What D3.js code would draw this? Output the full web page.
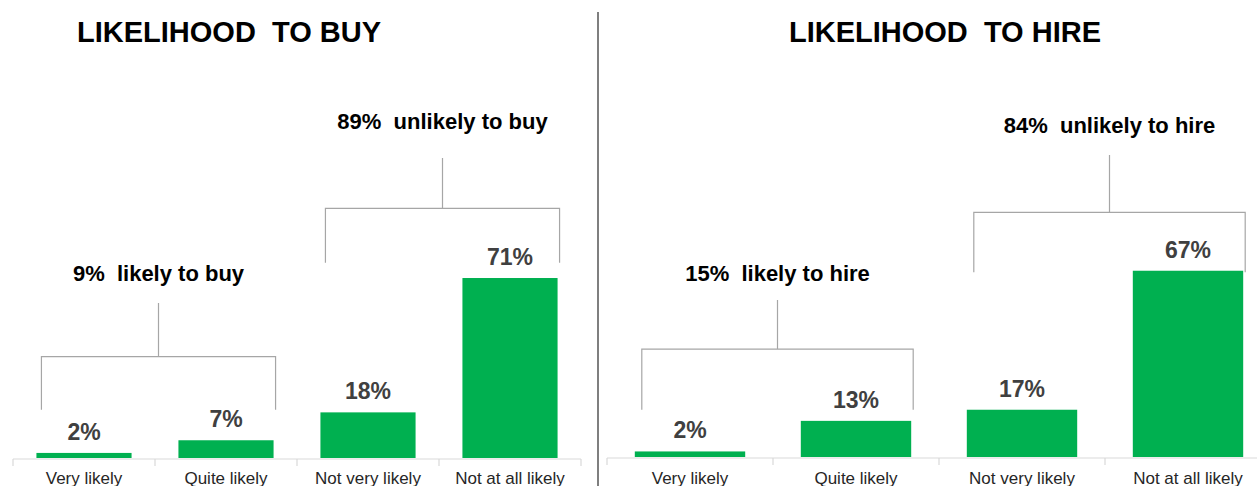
<!DOCTYPE html>
<html><head><meta charset="utf-8">
<script src="https://cdn.jsdelivr.net/npm/d3@7"></script>
<style>
html,body{margin:0;padding:0;background:#fff;overflow:hidden}
text{font-family:"Liberation Sans",Arial,sans-serif}
</style></head>
<body><svg id="c" width="1257" height="486"></svg>
<script>
// ---- data ----
const categories = ["Very likely","Quite likely","Not very likely","Not at all likely"];
const buyValues  = [2, 7, 18, 71];
const hireValues = [2, 13, 17, 67];
const titles = ["LIKELIHOOD\u00A0\u00A0TO BUY", "LIKELIHOOD\u00A0\u00A0TO HIRE"];
const buyGroupLabels  = ["9%\u00A0\u00A0likely to buy", "89%\u00A0\u00A0unlikely to buy"];
const hireGroupLabels = ["15%\u00A0\u00A0likely to hire", "84%\u00A0\u00A0unlikely to hire"];
const groupMembers = [[0,1],[2,3]];
// bracket levels in value units: [horizontal bar, leg end, stem top, label baseline]
const buyBracketLevels  = [[40, 19, 61.1, 69.8], [98.5, 77, 118.3, 129.8]];
const hireBracketLevels = [[38.8, 17, 56.5, 63.3], [88, 66.5, 108.6, 116.5]];

const svg = d3.select("#c");
const green = "#00b050";

function panel(opts){
  const g = svg.append("g");
  const x = d3.scaleBand().domain(categories).range(opts.xRange).paddingInner(opts.pad).paddingOuter(opts.pad/2);
  const y = d3.scaleLinear().domain([0, 100]).range([opts.base, opts.base - opts.pxPerPct*100]);

  // title
  g.append("text").attr("x", opts.titleX).attr("y", 42)
    .attr("font-size", 29).attr("font-weight", "bold").attr("fill", "#000")
    .attr("text-anchor", "middle").text(opts.title);

  // axis
  const axisG = g.append("g").attr("transform", `translate(0,${opts.base+1})`)
    .call(d3.axisBottom(x).tickSize(0).tickFormat(""));
  axisG.select(".domain").attr("stroke", "#d9d9d9").attr("stroke-width", 1.2)
    .attr("d", `M${opts.xRange[0]},0H${opts.xRange[1]}`);
  const step = x.step();
  const bounds = d3.range(categories.length + 1).map(i => opts.xRange[0] + i*step);
  axisG.selectAll(".bt").data(bounds).enter().append("line")
    .attr("x1", d => d).attr("x2", d => d).attr("y1", 0).attr("y2", 7)
    .attr("stroke", "#d9d9d9").attr("stroke-width", 1.2);

  // category labels
  g.selectAll(".cat").data(categories).enter().append("text")
    .attr("x", d => x(d) + x.bandwidth()/2).attr("y", 484)
    .attr("text-anchor", "middle").attr("font-size", 17).attr("fill", "#262626")
    .text(d => d);

  // bars
  g.selectAll(".bar").data(opts.values).enter().append("rect")
    .attr("x", (d,i) => x(categories[i])).attr("width", x.bandwidth())
    .attr("y", d => y(d)).attr("height", d => opts.base - y(d))
    .attr("fill", green);

  // value labels
  g.selectAll(".val").data(opts.values).enter().append("text")
    .attr("x", (d,i) => x(categories[i]) + x.bandwidth()/2)
    .attr("y", d => y(d) - 13)
    .attr("text-anchor", "middle").attr("font-size", 23).attr("font-weight", "bold")
    .attr("fill", "#404040").text(d => d + "%");

  // brackets
  groupMembers.forEach((mem, gi) => {
    const lv = opts.levels[gi];
    const x0 = x(categories[mem[0]]) + opts.legIn;
    const x1 = x(categories[mem[mem.length-1]]) + x.bandwidth() + 2;
    const xm = (x0 + x1) / 2;
    const path = d3.path();
    path.moveTo(x0, y(lv[1])); path.lineTo(x0, y(lv[0])); path.lineTo(x1, y(lv[0])); path.lineTo(x1, y(lv[1]));
    path.moveTo(xm, y(lv[0])); path.lineTo(xm, y(lv[2]));
    g.append("path").attr("d", path.toString()).attr("fill", "none")
      .attr("stroke", "#a6a6a6").attr("stroke-width", 1.2);
    g.append("text").attr("x", xm).attr("y", y(lv[3]))
      .attr("text-anchor", "middle").attr("font-size", 22).attr("font-weight", "bold")
      .attr("fill", "#000").text(opts.groupLabels[gi]);
  });
}

panel({xRange:[13, 581], pad:0.33, base:458, pxPerPct:2.535, values:buyValues, legIn:5,
       title:titles[0], titleX:229, groupLabels:buyGroupLabels, levels:buyBracketLevels});
panel({xRange:[607, 1271], pad:0.335, base:457, pxPerPct:2.78, values:hireValues, legIn:7,
       title:titles[1], titleX:945, groupLabels:hireGroupLabels, levels:hireBracketLevels});

// divider
svg.append("line").attr("x1", 598).attr("x2", 598).attr("y1", 12).attr("y2", 486)
  .attr("stroke", "#7f7f7f").attr("stroke-width", 2);
</script></body></html>
